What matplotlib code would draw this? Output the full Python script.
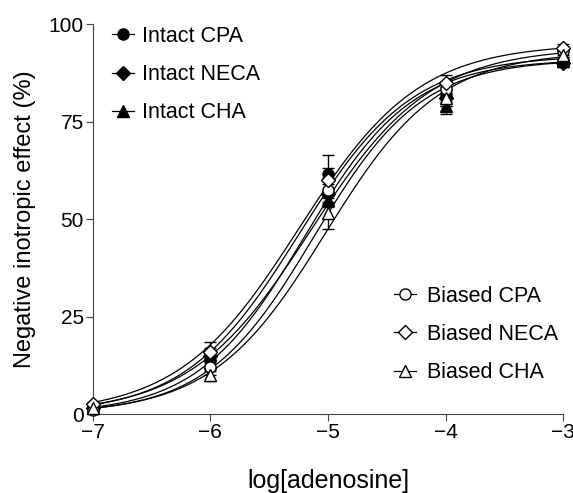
import numpy as np
import matplotlib
matplotlib.use("Agg")
import matplotlib.pyplot as plt

plt.rcParams['font.family'] = ['Liberation Sans', 'DejaVu Sans']

# log[adenosine] doses
log_conc = [-7, -6, -5, -4, -3]

# mean responses (%) and SEM
intact_cpa = [1.5, 14.0, 61.5, 82.0, 90.5]
intact_cpa_err = [0.5, 2.0, 5.0, 2.0, 1.0]
intact_neca = [1.5, 15.0, 56.5, 81.0, 90.0]
intact_neca_err = [0.5, 2.0, 2.5, 2.0, 1.0]
intact_cha = [1.5, 13.0, 55.0, 79.0, 90.5]
intact_cha_err = [0.5, 2.0, 2.0, 2.0, 1.0]
biased_cpa = [1.0, 12.0, 57.5, 83.5, 93.0]
biased_cpa_err = [0.5, 2.0, 3.0, 2.0, 1.0]
biased_neca = [2.5, 16.0, 60.0, 85.0, 94.0]
biased_neca_err = [0.5, 2.5, 3.0, 2.0, 1.0]
biased_cha = [1.5, 10.0, 51.5, 81.0, 92.0]
biased_cha_err = [0.5, 1.5, 4.0, 2.0, 1.0]

# fitted sigmoid parameters: bottom, top, logEC50, hill slope
fit_intact_cpa = (0, 92, -5.25, 0.9)
fit_intact_neca = (0, 91, -5.2, 0.95)
fit_intact_cha = (0, 91, -5.12, 0.95)
fit_biased_cpa = (0, 94, -5.15, 0.85)
fit_biased_neca = (0, 95, -5.25, 0.85)
fit_biased_cha = (0, 93, -5.02, 0.9)


def sigmoid(x, p):
    bottom, top, ec50, hill = p
    return bottom + (top - bottom) / (1 + 10 ** ((ec50 - x) * hill))


fig = plt.figure(figsize=(5.73, 4.93), dpi=100)
ax = fig.add_axes([0.162, 0.160, 0.821, 0.791])

xs = np.linspace(-7, -3, 300)
series = [
    ("Intact CPA", intact_cpa, intact_cpa_err, fit_intact_cpa, 'o', 'black'),
    ("Intact NECA", intact_neca, intact_neca_err, fit_intact_neca, 'D', 'black'),
    ("Intact CHA", intact_cha, intact_cha_err, fit_intact_cha, '^', 'black'),
    ("Biased CPA", biased_cpa, biased_cpa_err, fit_biased_cpa, 'o', 'white'),
    ("Biased NECA", biased_neca, biased_neca_err, fit_biased_neca, 'D', 'white'),
    ("Biased CHA", biased_cha, biased_cha_err, fit_biased_cha, '^', 'white'),
]

handles = []
for name, y, err, fit, mk, fc in series:
    ax.plot(xs, sigmoid(xs, fit), color='black', lw=0.9, clip_on=False, zorder=2)
    ax.errorbar(log_conc, y, yerr=err, fmt='none', ecolor='black',
                elinewidth=1, capsize=4, capthick=1, clip_on=False, zorder=3)
    ms = 8 if mk != 'D' else 7
    ax.plot(log_conc, y, ls='none', marker=mk, ms=ms, mfc=fc, mec='black',
            mew=1, clip_on=False, zorder=4)
    h, = ax.plot([], [], color='black', lw=0.9, marker=mk, ms=ms, mfc=fc,
                 mec='black', mew=1)
    handles.append((h, name))

leg1 = ax.legend([h for h, n in handles[:3]], [n for h, n in handles[:3]],
                 loc='upper left', bbox_to_anchor=(0.0, 1.045), frameon=False,
                 fontsize=15.5, handlelength=1.0, handletextpad=0.4,
                 labelspacing=0.8)
ax.add_artist(leg1)
ax.legend([h for h, n in handles[3:]], [n for h, n in handles[3:]],
          loc='lower left', bbox_to_anchor=(0.6, 0.03), frameon=False,
          fontsize=15.5, handlelength=1.0, handletextpad=0.5,
          labelspacing=0.8)

ax.set_xlim(-7, -3)
ax.set_ylim(0, 100)
ax.set_xticks([-7, -6, -5, -4, -3])
ax.set_yticks([0, 25, 50, 75, 100])
ax.spines['top'].set_visible(False)
ax.spines['right'].set_visible(False)
ax.spines['left'].set_color('#444444')
ax.spines['bottom'].set_color('#444444')
ax.tick_params(labelsize=15, length=5, color='#444444', pad=1.5)
ax.set_xlabel("log[adenosine]", fontsize=18, labelpad=19)
ax.set_ylabel("Negative inotropic effect (%)", fontsize=17, labelpad=9)

fig.savefig("out.png", dpi=100)
